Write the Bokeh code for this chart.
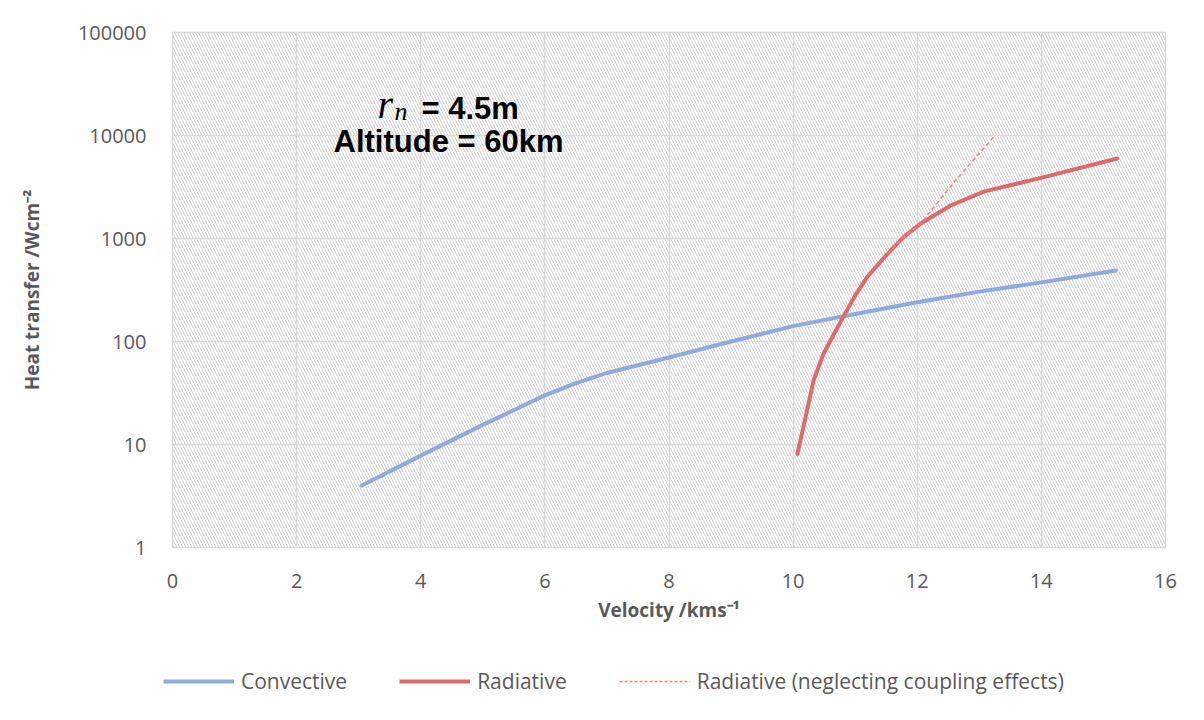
from bokeh.plotting import figure
from bokeh.layouts import column
from bokeh.models import (BoxAnnotation, Label, Legend, LegendItem, FixedTicker, Range1d)
from bokeh.embed import file_html
from bokeh.resources import INLINE

# ---- data ----
conv_v = [3.05, 4.0, 5.0, 6.0, 6.5, 7.0, 8.0, 9.0, 10.0, 11.0, 12.0, 13.0, 14.0, 15.2]
conv_q = [4.0, 7.8, 15.5, 30, 39.5, 49.5, 70, 100, 141, 185, 240, 305, 375, 490]

rad_v = [10.07, 10.2, 10.33, 10.49, 10.66, 10.82, 11.0, 11.19, 11.52, 11.78, 12.05, 12.27, 12.54, 13.07, 14.01, 15.22]
rad_q = [8.1, 18.4, 42, 76, 119, 179, 280, 420, 710, 1030, 1390, 1670, 2090, 2850, 3900, 5980]

dash_v = [11.52, 11.78, 12.05, 12.6, 13.25]
dash_q = [710, 1030, 1390, 3550, 10000]

x_ticks = [0, 2, 4, 6, 8, 10, 12, 14, 16]
y_ticks = [1, 10, 100, 1000, 10000, 100000]
y_tick_labels = ["1", "10", "100", "1000", "10000", "100000"]

series_names = ["Convective", "Radiative", "Radiative (neglecting coupling effects)"]

TXT = "#595959"
GRID = "#d9d9d9"
FONT = "Open Sans"
C_CONV = "#8FAADC"
C_RAD = "#DE6A6A"
C_DASH = "#FF7C80"

p = figure(width=1196, height=632, output_backend="svg", toolbar_location=None,
           y_axis_type="log", x_range=Range1d(0, 16), y_range=Range1d(1, 100000),
           min_border_left=172, min_border_right=31, min_border_top=32, min_border_bottom=85)
p.title = None
p.background_fill_color = "white"
p.border_fill_color = "white"
p.outline_line_color = GRID
p.outline_line_width = 1.5

# hatched plot area
hatch = BoxAnnotation(fill_alpha=0, line_alpha=0, hatch_pattern="\\", hatch_color="#d4d4d4",
                      hatch_scale=6, hatch_weight=1, level="image")
p.add_layout(hatch)

p.xaxis.ticker = FixedTicker(ticks=x_ticks)
p.yaxis.ticker = FixedTicker(ticks=y_ticks)
p.yaxis.major_label_overrides = {t: l for t, l in zip(y_ticks, y_tick_labels)}

for ax in (p.xaxis, p.yaxis):
    ax.axis_line_color = None
    ax.major_tick_line_color = None
    ax.minor_tick_line_color = None
    ax.major_label_text_font = FONT
    ax.major_label_text_font_size = "20px"
    ax.major_label_text_color = TXT
    ax.major_label_standoff = 20
    ax.axis_label_text_font = FONT
    ax.axis_label_text_font_style = "bold"
    ax.axis_label_text_font_size = "19px"
    ax.axis_label_text_color = TXT

p.xaxis.axis_label = "Velocity /kms\u207b\u00b9"
p.yaxis.axis_label = "Heat transfer /Wcm\u207b\u00b2"
p.xaxis.axis_label_standoff = 6
p.yaxis.axis_label_standoff = 30

p.xgrid.grid_line_color = GRID
p.ygrid.grid_line_color = GRID
p.xgrid.grid_line_width = 1.5
p.ygrid.grid_line_width = 1.5
p.ygrid.minor_grid_line_color = None

p.line(conv_v, conv_q, line_color=C_CONV, line_width=4, line_cap="round", line_join="round")
p.line(rad_v, rad_q, line_color=C_RAD, line_width=4, line_cap="round", line_join="round")
p.line(dash_v, dash_q, line_color=C_DASH, line_width=1.5, line_dash="4 3")

# annotation text
p.add_layout(Label(x=205, y=443, x_units="screen", y_units="screen", text="r",
                   text_font="Liberation Serif", text_font_style="italic",
                   text_font_size="40px", text_color="black", text_baseline="alphabetic"))
p.add_layout(Label(x=222, y=436, x_units="screen", y_units="screen", text="n",
                   text_font="Liberation Serif", text_font_style="italic",
                   text_font_size="26px", text_color="black", text_baseline="alphabetic"))
p.add_layout(Label(x=249, y=439, x_units="screen", y_units="screen", text="= 4.5m",
                   text_font="Liberation Sans", text_font_style="bold",
                   text_font_size="31px", text_color="black", text_baseline="alphabetic"))
p.add_layout(Label(x=276, y=406, x_units="screen", y_units="screen", text="Altitude = 60km",
                   text_font="Liberation Sans", text_font_style="bold",
                   text_font_size="31px", text_color="black", text_baseline="alphabetic",
                   text_align="center"))

# legend strip below the chart (series drawn out of view; only the legend shows)
lg = figure(width=1196, height=80, output_backend="svg", toolbar_location=None,
            x_range=Range1d(100, 101), y_range=Range1d(-10, -9),
            min_border=0, min_border_left=0, min_border_right=0,
            min_border_top=0, min_border_bottom=0)
try:
    lg.frame_align = False
    p.frame_align = False
except Exception:
    pass
lg.title = None
lg.axis.visible = False
lg.grid.visible = False
lg.outline_line_color = None
lg.border_fill_color = "white"
lg.background_fill_color = "white"
l1 = lg.line(conv_v, conv_q, line_color=C_CONV, line_width=4)
l2 = lg.line(rad_v, rad_q, line_color=C_RAD, line_width=4)
l3 = lg.line(dash_v, dash_q, line_color=C_DASH, line_width=1.5, line_dash="3 2")
legend = Legend(items=[LegendItem(label=series_names[0], renderers=[l1]),
                       LegendItem(label=series_names[1], renderers=[l2]),
                       LegendItem(label=series_names[2], renderers=[l3])],
                orientation="horizontal", location=(163, 17),
                glyph_width=71, glyph_height=20, label_height=20, label_standoff=7,
                spacing=52, padding=0, margin=0,
                label_text_font=FONT, label_text_font_size="21px", label_text_color=TXT,
                background_fill_alpha=0, border_line_color=None)
lg.add_layout(legend)

layout = column(p, lg, spacing=0)
open("out.html", "w").write(file_html(layout, INLINE))
